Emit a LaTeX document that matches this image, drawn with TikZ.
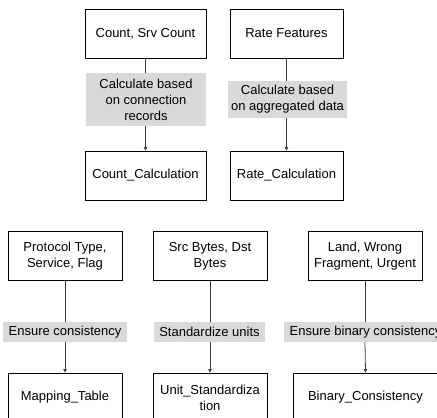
\documentclass[tikz,border=0pt]{standalone}
\usepackage{fontspec}
\setmainfont{Liberation Sans}
\usetikzlibrary{arrows.meta}
\definecolor{labelgray}{HTML}{D9D9D9}
\definecolor{linkgray}{HTML}{3A3A3A}
\tikzset{
  featbox/.style={draw=black, line width=0.9pt, fill=white, inner sep=0pt,
    align=center, font=\fontsize{13}{16}\selectfont},
  steplabel/.style={fill=labelgray, inner sep=0pt, align=center,
    font=\fontsize{13}{16}\selectfont},
  link/.style={draw=linkgray, line width=0.8pt},
  linkarrow/.style={link, -{Triangle[length=3.5pt,width=3.5pt]}}
}
\begin{document}
\begin{tikzpicture}[x=1pt,y=-1pt]
  \useasboundingbox (0,0) rectangle (437,418);
  \clip (0,0) rectangle (437,418);

  % aggregated features: top block
  \node[featbox, minimum width=121pt, minimum height=49pt] (cnt) at (145.5,33.5) {Count, Srv Count};
  \node[featbox, minimum width=113pt, minimum height=49pt] (rate) at (286.5,33.5) {Rate Features};
  \node[steplabel, minimum width=120pt, minimum height=53pt] (lcnt) at (146,99.5) {Calculate based\\on connection\\records};
  \node[steplabel, minimum width=119pt, minimum height=37pt] (lrate) at (287.5,99.5) {Calculate based\\on aggregated data};
  \node[featbox, minimum width=121pt, minimum height=49pt] (cntc) at (145.5,175.5) {Count\_Calculation};
  \node[featbox, minimum width=113pt, minimum height=49pt] (ratec) at (286.5,175.5) {Rate\_Calculation};

  \draw[link] (cnt.south) -- (cnt.south |- lcnt.north);
  \draw[linkarrow] (cnt.south |- lcnt.south) -- (cntc.north);
  \draw[link] (rate.south) -- (rate.south |- lrate.north);
  \draw[linkarrow] (rate.south |- lrate.south) -- (ratec.north);

  % basic features: bottom block
  \node[featbox, minimum width=114pt, minimum height=49pt] (proto) at (65,256) {Protocol Type,\\Service, Flag};
  \node[featbox, minimum width=114pt, minimum height=49pt] (bytes) at (210,256) {Src Bytes, Dst\\Bytes};
  \node[featbox, minimum width=114pt, minimum height=49pt] (land) at (365,256) {Land, Wrong\\Fragment, Urgent};

  \node[steplabel, minimum width=124pt, minimum height=20pt] (lproto) at (65,332) {Ensure consistency};
  \node[steplabel, minimum width=111pt, minimum height=20pt] (lbytes) at (209.5,332) {Standardize units};
  \node[steplabel, minimum width=163pt, minimum height=20pt] (lland) at (365.5,332) {Ensure binary consistency};

  \node[featbox, minimum width=114pt, minimum height=49pt] (map) at (65,397.5) {Mapping\_Table};
  \node[featbox, minimum width=114pt, minimum height=49pt] (unit) at (210,397.5) {Unit\_Standardiza\\tion};
  \node[featbox, minimum width=145pt, minimum height=49pt] (bin) at (365.5,397.5) {Binary\_Consistency};

  \draw[link] (proto.south) -- (proto.south |- lproto.north);
  \draw[linkarrow] (proto.south |- lproto.south) -- (map.north);
  \draw[link] (bytes.south) -- (bytes.south |- lbytes.north);
  \draw[linkarrow] (bytes.south |- lbytes.south) -- (unit.north);
  \draw[link] (land.south) -- (land.south |- lland.north);
  \draw[linkarrow] (land.south |- lland.south) -- (bin.north);
\end{tikzpicture}
\end{document}
